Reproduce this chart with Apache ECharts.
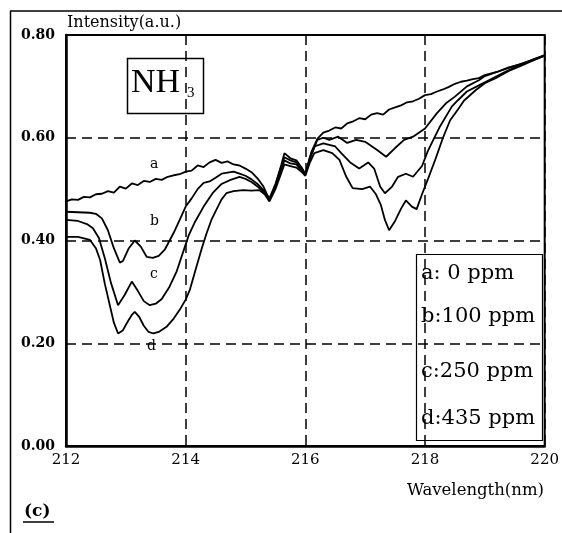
<!DOCTYPE html>
<html>
<head>
<meta charset="utf-8">
<script src="https://cdn.jsdelivr.net/npm/echarts@6/dist/echarts.min.js"></script>
<style>html,body{margin:0;padding:0;background:#fff}#c{width:562px;height:533px}</style>
</head>
<body>
<div id="c"></div>
<script>
// Wavelength (nm) / Intensity (a.u.) pairs
const curveA = [[212.0,0.476],[212.1,0.480],[212.2,0.479],[212.3,0.485],[212.4,0.484],[212.5,0.490],[212.6,0.491],[212.7,0.496],[212.8,0.493],[212.9,0.505],[213.0,0.501],[213.1,0.511],[213.2,0.508],[213.3,0.516],[213.4,0.514],[213.5,0.520],[213.6,0.518],[213.7,0.524],[213.8,0.527],[213.9,0.529],[214.0,0.534],[214.1,0.536],[214.2,0.546],[214.3,0.543],[214.4,0.552],[214.5,0.557],[214.6,0.551],[214.7,0.554],[214.8,0.548],[214.9,0.546],[215.0,0.540],[215.1,0.533],[215.2,0.521],[215.3,0.505],[215.4,0.479],[215.5,0.508],[215.6,0.548],[215.65,0.570],[215.75,0.560],[215.85,0.556],[215.95,0.540],[216.0,0.528],[216.1,0.572],[216.2,0.598],[216.3,0.610],[216.4,0.614],[216.5,0.620],[216.6,0.618],[216.7,0.628],[216.8,0.632],[216.9,0.638],[217.0,0.636],[217.1,0.645],[217.2,0.648],[217.3,0.645],[217.4,0.655],[217.5,0.659],[217.6,0.663],[217.7,0.669],[217.8,0.671],[217.9,0.676],[218.0,0.683],[218.1,0.685],[218.2,0.690],[218.3,0.694],[218.4,0.699],[218.5,0.705],[218.6,0.709],[218.7,0.711],[218.8,0.714],[218.9,0.716],[219.0,0.722],[219.2,0.728],[219.4,0.737],[219.6,0.743],[219.8,0.752],[220.0,0.761]];
const curveB = [[212.0,0.456],[212.2,0.455],[212.4,0.454],[212.5,0.452],[212.6,0.443],[212.7,0.420],[212.8,0.385],[212.9,0.357],[212.95,0.360],[213.05,0.385],[213.15,0.400],[213.25,0.388],[213.35,0.368],[213.45,0.366],[213.55,0.370],[213.65,0.382],[213.8,0.415],[213.9,0.440],[214.0,0.466],[214.1,0.482],[214.2,0.500],[214.3,0.512],[214.4,0.515],[214.5,0.522],[214.6,0.530],[214.7,0.532],[214.8,0.534],[214.9,0.530],[215.0,0.526],[215.1,0.519],[215.2,0.510],[215.3,0.498],[215.4,0.482],[215.5,0.510],[215.6,0.545],[215.65,0.562],[215.75,0.556],[215.85,0.552],[215.95,0.538],[216.0,0.530],[216.1,0.566],[216.2,0.596],[216.3,0.600],[216.4,0.596],[216.55,0.602],[216.7,0.590],[216.85,0.596],[217.0,0.592],[217.2,0.576],[217.35,0.563],[217.5,0.580],[217.65,0.596],[217.8,0.602],[218.0,0.618],[218.2,0.648],[218.35,0.667],[218.5,0.680],[218.7,0.700],[218.9,0.712],[219.0,0.720],[219.2,0.728],[219.4,0.736],[219.6,0.744],[219.8,0.751],[220.0,0.760]];
const curveC = [[212.0,0.440],[212.2,0.438],[212.35,0.432],[212.45,0.424],[212.55,0.405],[212.65,0.365],[212.75,0.318],[212.87,0.274],[212.98,0.294],[213.1,0.320],[213.2,0.302],[213.3,0.282],[213.4,0.274],[213.5,0.277],[213.6,0.286],[213.73,0.310],[213.85,0.340],[213.95,0.375],[214.05,0.410],[214.15,0.435],[214.3,0.466],[214.45,0.492],[214.6,0.510],[214.75,0.518],[214.9,0.524],[215.0,0.520],[215.1,0.514],[215.2,0.505],[215.3,0.495],[215.4,0.479],[215.5,0.505],[215.6,0.540],[215.65,0.556],[215.75,0.550],[215.85,0.548],[215.95,0.535],[216.0,0.528],[216.07,0.560],[216.15,0.583],[216.3,0.589],[216.5,0.583],[216.6,0.570],[216.75,0.552],[216.9,0.540],[217.05,0.552],[217.15,0.540],[217.25,0.505],[217.33,0.492],[217.45,0.505],[217.55,0.524],[217.68,0.530],[217.8,0.524],[217.95,0.545],[218.05,0.575],[218.25,0.622],[218.45,0.661],[218.55,0.673],[218.7,0.690],[218.9,0.702],[219.1,0.714],[219.3,0.726],[219.5,0.737],[219.7,0.747],[219.85,0.754],[220.0,0.760]];
const curveD = [[212.0,0.407],[212.2,0.407],[212.4,0.401],[212.5,0.385],[212.57,0.362],[212.65,0.315],[212.72,0.280],[212.8,0.240],[212.87,0.219],[212.95,0.225],[213.02,0.240],[213.1,0.255],[213.15,0.261],[213.22,0.252],[213.3,0.234],[213.38,0.222],[213.46,0.219],[213.55,0.222],[213.68,0.232],[213.8,0.248],[213.9,0.265],[214.0,0.285],[214.07,0.304],[214.18,0.349],[214.27,0.385],[214.35,0.414],[214.43,0.440],[214.51,0.459],[214.6,0.480],[214.68,0.492],[214.8,0.496],[214.96,0.498],[215.1,0.497],[215.23,0.498],[215.32,0.490],[215.4,0.476],[215.5,0.500],[215.6,0.532],[215.65,0.548],[215.75,0.545],[215.85,0.542],[215.95,0.532],[216.0,0.526],[216.07,0.550],[216.15,0.570],[216.3,0.576],[216.45,0.570],[216.57,0.557],[216.68,0.525],[216.79,0.502],[216.95,0.500],[217.08,0.505],[217.18,0.490],[217.26,0.470],[217.33,0.440],[217.4,0.420],[217.5,0.438],[217.6,0.462],[217.68,0.478],[217.78,0.466],[217.86,0.461],[217.95,0.490],[218.05,0.520],[218.18,0.560],[218.3,0.600],[218.42,0.634],[218.55,0.655],[218.65,0.672],[218.85,0.693],[219.0,0.706],[219.18,0.716],[219.4,0.730],[219.6,0.740],[219.8,0.750],[220.0,0.760]];

const curveNames = ['a','b','c','d'];
const legendLines = ['a: 0 ppm','b:100 ppm','c:250 ppm','d:435 ppm'];
const yTitle = 'Intensity(a.u.)';
const xTitle = 'Wavelength(nm)';
const gasLabel = 'NH';
const gasSub = '3';
const panelLabel = '(c)';

const chart = echarts.init(document.getElementById('c'), null, {renderer:'canvas'});
const serif = 'DejaVu Serif';
const dash = {color:'#000', width:1.5, type:[10,6]};

function mk(name, data){
  return {name, type:'line', data, showSymbol:false, symbol:'none', smooth:false,
    lineStyle:{color:'#000', width:1.8}, z:3, animation:false};
}

const option = {
  animation:false,
  backgroundColor:'#fff',
  grid:{left:66, right:16, top:35, bottom:87, show:true, borderColor:'#000', borderWidth:2},
  xAxis:{type:'value', min:212, max:220, interval:2,
    axisLine:{show:true, lineStyle:{color:'#000', width:2.5}},
    axisTick:{show:false},
    axisLabel:{color:'#000', fontFamily:serif, fontSize:15, margin:7},
    splitLine:{show:true, lineStyle:dash}},
  yAxis:{type:'value', min:0, max:0.8, interval:0.2,
    axisLine:{show:true, lineStyle:{color:'#000', width:2.5}},
    axisTick:{show:false},
    axisLabel:{color:'#000', fontFamily:serif, fontSize:14, fontWeight:'bold', margin:11,
      formatter:v=>v.toFixed(2)},
    splitLine:{show:true, lineStyle:dash}},
  series:[mk(curveNames[0],curveA), mk(curveNames[1],curveB), mk(curveNames[2],curveC), mk(curveNames[3],curveD)],
  graphic:[
    {type:'line', shape:{x1:10,y1:11,x2:562,y2:11}, style:{stroke:'#000', lineWidth:1.5}},
    {type:'line', shape:{x1:10.5,y1:11,x2:10.5,y2:533}, style:{stroke:'#000', lineWidth:1.5}},
    {type:'text', left:67, top:15, style:{text:yTitle, font:'16px "DejaVu Serif"', fill:'#000'}},
    {type:'text', right:18, top:482, style:{text:xTitle, font:'16.5px "DejaVu Serif"', fill:'#000'}},
    {type:'text', left:24, top:503, style:{text:panelLabel, font:'bold 17px "DejaVu Serif"', fill:'#000'}},
    {type:'line', shape:{x1:23,y1:522,x2:54,y2:522}, style:{stroke:'#000', lineWidth:1.5}},
    {type:'rect', shape:{x:127.5,y:58.5,width:76,height:55}, style:{stroke:'#000', lineWidth:1.5, fill:null}, z:5},
    {type:'text', left:131, top:66, style:{text:gasLabel, font:'34px "Liberation Serif"', fill:'#000'}, z:5},
    {type:'text', left:187, top:86, style:{text:gasSub, font:'15px "Liberation Serif"', fill:'#000'}, z:5},
    {type:'rect', shape:{x:416.5,y:254.5,width:126,height:186}, style:{stroke:'#000', lineWidth:1.2, fill:null}, z:5},
    {type:'text', left:421, top:263, style:{text:legendLines[0], font:'21px "DejaVu Serif"', fill:'#000'}, z:5},
    {type:'text', left:421, top:306, style:{text:legendLines[1], font:'21px "DejaVu Serif"', fill:'#000'}, z:5},
    {type:'text', left:421, top:361, style:{text:legendLines[2], font:'21px "DejaVu Serif"', fill:'#000'}, z:5},
    {type:'text', left:421, top:408, style:{text:legendLines[3], font:'21px "DejaVu Serif"', fill:'#000'}, z:5},
    {type:'text', left:150, top:157, style:{text:curveNames[0], font:'14px "DejaVu Serif"', fill:'#000'}, z:5},
    {type:'text', left:150, top:214, style:{text:curveNames[1], font:'14px "DejaVu Serif"', fill:'#000'}, z:5},
    {type:'text', left:150, top:267, style:{text:curveNames[2], font:'14px "DejaVu Serif"', fill:'#000'}, z:5},
    {type:'text', left:147, top:339, style:{text:curveNames[3], font:'14px "DejaVu Serif"', fill:'#000'}, z:5}
  ]
};
chart.setOption(option);
</script>
</body>
</html>
